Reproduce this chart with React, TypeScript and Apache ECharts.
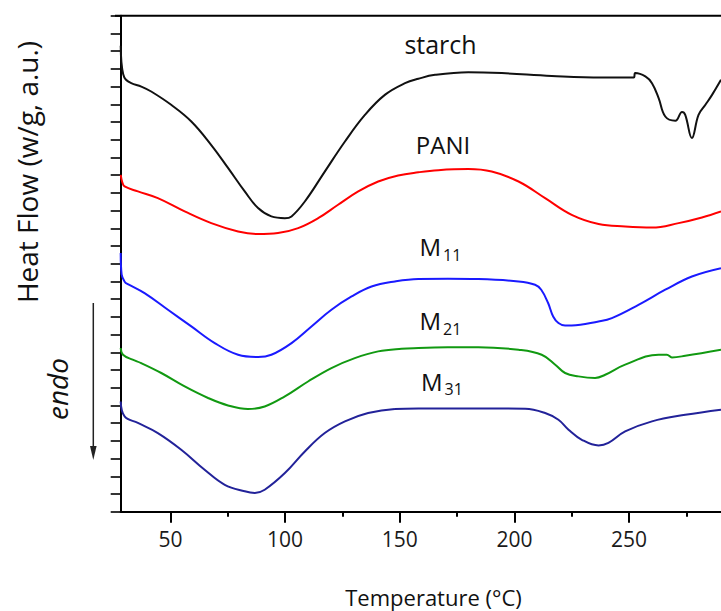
import React, { useEffect, useRef } from "react";
import * as echarts from "echarts";

// Temperature (°C) vs heat flow (a.u.)
const starch: [number, number][] = [
  [28.3, 26.3], [28.6, 25.4], [29.4, 24.7], [30.5, 24.4], [32.9, 24.19], [37.3, 24.0], [41.6, 23.72], [50.3, 22.97],
  [59.1, 22.03], [67.8, 20.7], [75.1, 19.41], [82.4, 18.08], [88.2, 17.14], [94.0, 16.67], [99.9, 16.57],
  [102.8, 16.67], [108.6, 17.51], [117.3, 19.2], [126.1, 20.9], [134.8, 22.4], [143.5, 23.53], [152.3, 24.19],
  [158.1, 24.44], [165.4, 24.66], [179.9, 24.81], [194.5, 24.76], [216.3, 24.6], [238.1, 24.51], [252.0, 24.51],
  [252.7, 24.76], [257.1, 24.57], [260.0, 24.19], [262.9, 23.35], [265.8, 22.31], [270.2, 22.07], [273.1, 22.56],
  [274.5, 22.4], [277.4, 21.09], [280.3, 22.4], [283.3, 22.97], [286.2, 23.53], [290.1, 24.38],
];
const pani: [number, number][] = [
  [28.3, 19.02], [29.0, 18.6], [30.0, 18.36], [35.8, 18.08], [44.5, 17.7], [56.2, 16.95], [67.8, 16.29],
  [79.5, 15.82], [88.2, 15.67], [96.9, 15.73], [105.7, 16.01], [114.4, 16.57], [123.1, 17.33], [131.9, 18.08],
  [140.6, 18.64], [149.3, 18.98], [158.1, 19.16], [166.8, 19.28], [179.9, 19.34], [190.1, 19.2], [201.8, 18.64],
  [213.4, 17.7], [225.0, 16.76], [236.7, 16.24], [248.3, 16.1], [260.0, 16.04], [271.6, 16.29], [281.8, 16.61],
  [290.1, 16.95],
];
const m11: [number, number][] = [
  [28.3, 14.6], [28.7, 13.4], [30.2, 12.95], [31.4, 12.85], [38.7, 12.34], [48.9, 11.4], [59.1, 10.46],
  [69.3, 9.52], [79.5, 8.86], [88.2, 8.73], [94.0, 8.86], [102.8, 9.52], [111.5, 10.46], [120.2, 11.4],
  [129.0, 12.15], [137.7, 12.71], [147.9, 13.0], [158.1, 13.14], [171.0, 13.15], [184.3, 13.13], [201.8, 13.0],
  [209.0, 12.81], [211.7, 12.53], [214.7, 11.78], [216.9, 11.02], [219.2, 10.65], [222.1, 10.51], [225.0, 10.51],
  [236.7, 10.74], [242.5, 10.93], [254.1, 11.68], [265.8, 12.53], [277.4, 13.28], [290.1, 13.75],
];
const m21: [number, number][] = [
  [28.3, 9.24], [29.3, 8.86], [33.5, 8.58], [37.2, 8.39], [46.0, 7.83], [56.2, 7.07], [66.4, 6.42],
  [75.1, 6.0], [83.8, 5.8], [91.1, 5.94], [99.9, 6.51], [110.0, 7.35], [120.2, 8.11], [130.4, 8.67],
  [140.6, 9.05], [150.8, 9.2], [158.1, 9.24], [171.0, 9.28], [184.3, 9.29], [201.8, 9.14], [211.9, 8.86],
  [217.8, 8.3], [222.1, 7.83], [227.9, 7.64], [235.2, 7.55], [239.6, 7.73], [248.3, 8.3], [262.9, 8.86],
  [266.5, 8.86], [268.7, 8.71], [274.5, 8.8], [290.1, 9.14],
];
const m31: [number, number][] = [
  [28.3, 6.22], [30.0, 5.38], [35.8, 5.01], [44.5, 4.44], [54.7, 3.5], [64.9, 2.37], [73.7, 1.52],
  [82.4, 1.15], [86.8, 1.06], [91.1, 1.24], [99.9, 2.18], [108.6, 3.4], [117.3, 4.44], [126.1, 5.1],
  [136.2, 5.57], [147.9, 5.8], [158.1, 5.83], [180.0, 5.83], [204.7, 5.81], [213.4, 5.57], [219.2, 5.19],
  [223.6, 4.63], [229.4, 4.06], [236.7, 3.74], [241.0, 3.88], [248.3, 4.53], [260.0, 5.1], [274.5, 5.47],
  [290.1, 5.76],
];

const majorTicks = [50, 100, 150, 200, 250];
const minorTicks = [75, 125, 175, 225, 275];
const X_MIN = 28.3;
const X_MAX = 290.1;
const Y_MIN = 0;
const Y_MAX = 28;

const seriesDefs = [
  { name: "starch", data: starch, color: "#111111" },
  { name: "PANI", data: pani, color: "#ff0000" },
  { name: "M11", data: m11, color: "#1a1aff" },
  { name: "M21", data: m21, color: "#119911" },
  { name: "M31", data: m31, color: "#222299" },
];

const FONT = "'Open Sans', 'Noto Sans', sans-serif";

const txt = (
  text: string,
  x: number,
  y: number,
  fontSize: number,
  align: string,
  extra: any = {}
) => ({
  type: "text",
  x,
  y,
  rotation: extra.rotation || 0,
  z: 10,
  style: {
    text,
    fontSize,
    fontFamily: FONT,
    fontStyle: extra.fontStyle || "normal",
    fill: extra.fill || "#111",
    align,
    verticalAlign: "middle",
    textAlign: align,
    textVerticalAlign: "middle",
  },
});

export default function App() {
  const ref = useRef<HTMLDivElement>(null);
  useEffect(() => {
    if (!ref.current) return;
    const chart = echarts.init(ref.current, undefined, { renderer: "svg" });
    const gridTop = 15.7;
    const gridBottom = 611 - 511.7;
    const gridH = 611 - gridTop - gridBottom;
    const axisColor = "#000";
    chart.setOption({
      animation: false,
      backgroundColor: "#fff",
      grid: { left: 120.7, right: 0, top: gridTop, bottom: gridBottom, containLabel: false },
      xAxis: [
        {
          type: "value",
          min: X_MIN,
          max: X_MAX,
          position: "bottom",
          axisLine: { show: true, lineStyle: { color: axisColor, width: 2 } },
          axisTick: { show: true, length: 11, customValues: majorTicks, lineStyle: { color: axisColor, width: 2 } },
          axisLabel: {
            show: true,
            customValues: majorTicks,
            fontSize: 21,
            fontFamily: FONT,
            color: "#1a1a1a",
            margin: 17,
          },
          splitLine: { show: false },
        },
        {
          type: "value",
          min: X_MIN,
          max: X_MAX,
          position: "top",
          offset: -gridH,
          axisLine: { show: false },
          axisTick: { show: true, inside: true, length: 5, customValues: minorTicks, lineStyle: { color: axisColor, width: 2 } },
          axisLabel: { show: false },
          splitLine: { show: false },
        },
      ],
      yAxis: {
        type: "value",
        min: Y_MIN,
        max: Y_MAX,
        interval: 1,
        axisLine: { show: true, lineStyle: { color: axisColor, width: 2 } },
        axisTick: { show: true, length: 10, lineStyle: { color: axisColor, width: 1.6 } },
        axisLabel: { show: false },
        splitLine: { show: false },
      },
      series: seriesDefs.map((s) => ({
        name: s.name,
        type: "line",
        data: s.data,
        xAxisIndex: 0,
        yAxisIndex: 0,
        showSymbol: false,
        symbol: "none",
        smooth: 0.4,
        lineStyle: { color: s.color, width: 2 },
        itemStyle: { color: s.color },
      })),
      graphic: [
        {
          type: "line",
          z: 5,
          shape: { x1: 115, y1: gridTop, x2: 721, y2: gridTop },
          style: { stroke: axisColor, lineWidth: 2 },
        },
        txt("Heat Flow (w/g, a.u.)", 27, 172, 28, "center", { rotation: Math.PI / 2 }),
        txt("endo", 57, 389, 28, "center", { rotation: Math.PI / 2, fontStyle: "italic" }),
        {
          type: "line",
          shape: { x1: 93.3, y1: 303, x2: 93.3, y2: 450 },
          style: { stroke: "#222", lineWidth: 1.5 },
        },
        {
          type: "polygon",
          shape: { points: [[90, 446], [96.6, 446], [93.3, 460]] },
          style: { fill: "#222" },
        },
        txt("Temperature (°C)", 433.5, 597, 22, "center"),
        txt("starch", 440.5, 44, 25, "center"),
        txt("PANI", 443, 144.5, 24, "center"),
        txt("M", 419.5, 246.8, 24, "left"),
        txt("11", 443, 254.7, 16, "left"),
        txt("M", 419.5, 320.8, 24, "left"),
        txt("21", 443, 328.7, 16, "left"),
        txt("M", 421, 381.1, 24, "left"),
        txt("31", 444.5, 389, 16, "left"),
      ],
    });
    return () => chart.dispose();
  }, []);
  return (
    <div
      ref={ref}
      style={{ position: "fixed", left: 0, top: 0, width: 721, height: 611, background: "#fff" }}
    />
  );
}
